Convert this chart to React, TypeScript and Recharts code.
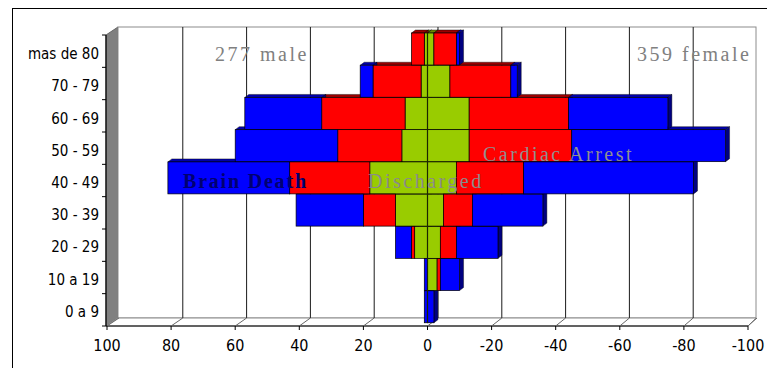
import React from 'react';
import { BarChart, Bar, XAxis, YAxis, CartesianGrid, ReferenceLine } from 'recharts';

// ---- data (bottom row first) ----
const ageGroups = ['0 a 9', '10 a 19', '20 - 29', '30 - 39', '40 - 49', '50 - 59', '60 - 69', '70 - 79', 'mas de 80'];

const maleDischarged = [0, 0, 4, 10, 18, 8, 7, 2, 1];
const maleCardiacArrest = [0, 0, 1, 10, 25, 20, 26, 15, 4];
const maleBrainDeath = [1, 1, 5, 21, 38, 32, 24, 4, 0];

const femaleDischarged = [0, 3, 4, 5, 9, 13, 13, 7, 2];
const femaleCardiacArrest = [0, 1, 5, 9, 21, 32, 31, 19, 7];
const femaleBrainDeath = [2, 6, 13, 22, 53, 48, 31, 2, 1];

const xTicks = [100, 80, 60, 40, 20, 0, -20, -40, -60, -80, -100];

const maleTotal = [...maleDischarged, ...maleCardiacArrest, ...maleBrainDeath].reduce((a, b) => a + b, 0);
const femaleTotal = [...femaleDischarged, ...femaleCardiacArrest, ...femaleBrainDeath].reduce((a, b) => a + b, 0);

// female values go negative so they sit right of zero on the reversed axis
const rows = ageGroups.map((age, i) => ({
  age,
  mD: maleDischarged[i],
  fD: -femaleDischarged[i],
  mC: maleCardiacArrest[i],
  fC: -femaleCardiacArrest[i],
  mB: maleBrainDeath[i],
  fB: -femaleBrainDeath[i],
}));

// ---- layout ----
const W = 767;
const H = 368;
const MARGIN = { top: 33, right: 19, bottom: 15, left: 7 };
const Y_AXIS_W = 100;
const X_AXIS_H = 30;

// the 3D box the bars sit in
const FRONT = { left: 106, right: 748, top: 35, bottom: 326 };
const BACK = { left: 118, right: 756, top: 27, bottom: 318 };

const BLUE = '#0000ff';
const RED = '#ff0000';
const GREEN = '#99cc00';

const SHADES: Record<string, { top: string; side: string }> = {
  [BLUE]: { top: '#0000a8', side: '#000080' },
  [RED]: { top: '#9a0000', side: '#800000' },
  [GREEN]: { top: '#6b8a00', side: '#4d6600' },
};

const DX = 4;
const DY = 3;
const TICK_FONT = "'Liberation Sans Narrow', 'DejaVu Sans Condensed', 'Arial Narrow', sans-serif";

function norm(p: any) {
  const x0 = Math.min(p.x, p.x + p.width);
  const y0 = Math.min(p.y, p.y + p.height);
  return { x0, y0, w: Math.abs(p.width), h: Math.abs(p.height) };
}

// top and right faces of a bar, drawn behind every front face
const DepthShape = (props: any) => {
  const { x0, y0, w, h } = norm(props);
  if (!w || w < 0.5) return null;
  const c = SHADES[props.fill] || { top: '#444', side: '#222' };
  const top = `${x0},${y0} ${x0 + DX},${y0 - DY} ${x0 + w + DX},${y0 - DY} ${x0 + w},${y0}`;
  const side = `${x0 + w},${y0} ${x0 + w + DX},${y0 - DY} ${x0 + w + DX},${y0 + h - DY} ${x0 + w},${y0 + h}`;
  return (
    <g>
      <polygon points={top} fill={c.top} stroke="#000" strokeWidth={0.4} />
      <polygon points={side} fill={c.side} stroke="#000" strokeWidth={0.4} />
    </g>
  );
};

const FrontShape = (props: any) => {
  const { x0, y0, w, h } = norm(props);
  if (!w || w < 0.5) return null;
  return <rect x={x0} y={y0} width={w} height={h} fill={props.fill} stroke="#000" strokeWidth={0.7} />;
};

// back wall line plus the slanted floor line at one x position
function wallLines(x: number, key: string, edge: boolean) {
  const dx = 12 - (3 * (x - FRONT.left)) / (FRONT.right - FRONT.left);
  const bx = x + dx;
  return (
    <g key={key}>
      {!edge && <line x1={bx} y1={BACK.top} x2={bx} y2={BACK.bottom} stroke="#1a1a1a" strokeWidth={1} />}
      <line x1={x} y1={FRONT.bottom} x2={bx} y2={BACK.bottom} stroke="#666" strokeWidth={1} />
    </g>
  );
}

const backGridLine = (props: any) => {
  const { x1, index } = props;
  return wallLines(x1, `grid-${index}`, index === 0 || index === xTicks.length - 1);
};

// depth layer: the axis ticks only feed the grid, nothing is printed
const SilentTick = () => <g />;

const XTick = (props: any) => {
  const { x, payload } = props;
  return (
    <g>
      <line x1={x} y1={FRONT.bottom} x2={x} y2={FRONT.bottom + 4} stroke="#000" />
      <text x={x} y={351} textAnchor="middle" fontFamily={TICK_FONT} fontSize={16} fill="#000">
        {payload.value}
      </text>
    </g>
  );
};

const YTick = (props: any) => {
  const { x, y, payload } = props;
  return (
    <text x={x} y={y + 10} textAnchor="end" fontFamily={TICK_FONT} fontSize={15} fill="#000">
      {payload.value}
    </text>
  );
};

const series = [
  { key: 'mD', fill: GREEN },
  { key: 'fD', fill: GREEN },
  { key: 'mC', fill: RED },
  { key: 'fC', fill: RED },
  { key: 'mB', fill: BLUE },
  { key: 'fB', fill: BLUE },
];

function Layer({ depth }: { depth: boolean }) {
  return (
    <BarChart
      width={W}
      height={H}
      data={rows}
      layout="vertical"
      margin={MARGIN}
      barCategoryGap={0}
      barGap={0}
      stackOffset="sign"
    >
      {depth && <CartesianGrid horizontal={false} vertical={backGridLine} />}
      <XAxis
        type="number"
        domain={[-100, 100]}
        ticks={xTicks}
        reversed
        allowDataOverflow
        height={X_AXIS_H}
        axisLine={false}
        tickLine={false}
        tick={depth ? <SilentTick /> : <XTick />}
        interval={0}
      />
      <YAxis
        type="category"
        dataKey="age"
        reversed
        width={Y_AXIS_W}
        axisLine={false}
        tickLine={false}
        tick={depth ? <SilentTick /> : <YTick />}
        interval={0}
      />
      {series.map((s) => (
        <Bar
          key={s.key}
          dataKey={s.key}
          stackId="pyramid"
          fill={s.fill}
          isAnimationActive={false}
          shape={depth ? <DepthShape /> : <FrontShape />}
        />
      ))}
      {!depth && <ReferenceLine x={0} stroke="#1c2600" strokeWidth={1.2} />}
    </BarChart>
  );
}

const tickRows = ageGroups.map((_, i) => i);

export default function App() {
  const step = (FRONT.bottom - FRONT.top) / ageGroups.length;
  const abs: React.CSSProperties = { position: 'absolute', left: 0, top: 0 };
  const labelStyle = { fontFamily: "'Liberation Serif', 'Times New Roman', serif", fontSize: 20, letterSpacing: 2.5 };
  return (
    <div style={{ position: 'absolute', left: 0, top: 0, width: W, height: H, overflow: 'hidden', background: '#fff' }}>
      <div style={{ position: 'absolute', left: 12, top: 8, width: W, height: H, border: '1px solid #000' }} />

      {/* walls and floor of the box */}
      <svg width={W} height={H} style={abs}>
        <polygon
          points={`${FRONT.left},${FRONT.top} ${BACK.left},${BACK.top} ${BACK.left},${BACK.bottom} ${FRONT.left},${FRONT.bottom}`}
          fill="#808080"
          stroke="#666"
        />
        <rect
          x={BACK.left}
          y={BACK.top}
          width={BACK.right - BACK.left}
          height={BACK.bottom - BACK.top}
          fill="#fff"
          stroke="#8c8c8c"
        />
        <polygon
          points={`${FRONT.left},${FRONT.bottom} ${BACK.left},${BACK.bottom} ${BACK.right},${BACK.bottom} ${FRONT.right},${FRONT.bottom}`}
          fill="#fff"
          stroke="#8c8c8c"
        />
        <line x1={FRONT.left} y1={FRONT.bottom} x2={FRONT.right} y2={FRONT.bottom} stroke="#000" strokeWidth={1.2} />
        <line x1={FRONT.left} y1={FRONT.top} x2={FRONT.left} y2={FRONT.bottom} stroke="#000" strokeWidth={1.2} />
        {[...tickRows, ageGroups.length].map((i) => (
          <line
            key={i}
            x1={FRONT.left - 4}
            y1={FRONT.top + i * step}
            x2={FRONT.left}
            y2={FRONT.top + i * step}
            stroke="#000"
          />
        ))}
      </svg>

      <div style={abs}>
        <Layer depth />
      </div>
      <div style={abs}>
        <Layer depth={false} />
      </div>

      <svg width={W} height={H} style={{ ...abs, pointerEvents: 'none' }}>
        <text x={215} y={61} fill="#808080" {...labelStyle}>{`${maleTotal} male`}</text>
        <text x={637} y={61} fill="#808080" {...labelStyle}>{`${femaleTotal} female`}</text>
        <text x={183} y={188} fill="#000070" fontWeight="bold" {...labelStyle} letterSpacing={1.8}>Brain Death</text>
        <text x={368} y={188} fill="#8a8a8a" {...labelStyle}>Discharged</text>
        <text x={483} y={161} fill="#8f8f8f" {...labelStyle}>Cardiac Arrest</text>
      </svg>
    </div>
  );
}
